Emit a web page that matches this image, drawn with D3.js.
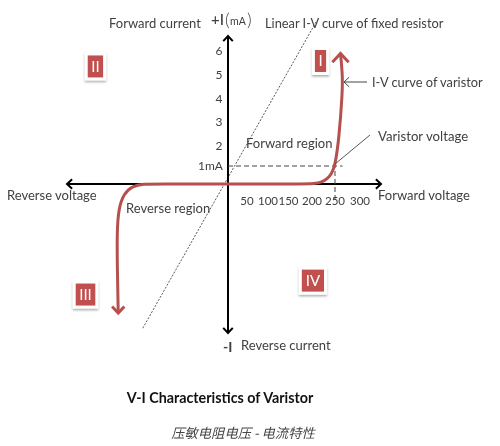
<!DOCTYPE html>
<html>
<head>
<meta charset="utf-8">
<script src="https://cdn.jsdelivr.net/npm/d3@7"></script>
<style>
html, body { margin: 0; padding: 0; background: #fff; }
svg { display: block; filter: blur(0.35px); }
text { font-family: Lato, "Noto Sans", sans-serif; fill: #404040; }
</style>
</head>
<body>
<div id="chart"></div>
<script>
// Values (volts, mA)
var voltageTicks = [50, 100, 150, 200, 250, 300];
var currentTicks = [2, 3, 4, 5, 6];
var varistorVoltage = 250;
var oneMilliamp = 1;

var forwardVolts = [0, 0, 176, 206, 221, 234, 243, 250, 258, 265, 265, 261, 261, 261];
var forwardAmps = [0, 0, 0, 0.02, 0.1, 0.3, 0.6, 1, 2.3, 4.3, 5, 5.9, 5.9, 5.9];
var reverseVolts = [0, 0, -170, -195, -222, -242, -254, -258, -257, -255, -255, -255];
var reverseAmps = [0, 0, 0, 0, -0.08, -0.4, -1, -2, -3.6, -5.37, -5.37, -5.37];
var resistorVolts = [-198, 210];
var resistorAmps = [-6, 6.6];

var regions = ["I", "II", "III", "IV"];
var regionVolts = [218.5, -308, -331, 202];
var regionAmps = [5.58, 5.35, -4.6, -4.02];

function init() {
    var w = 500;
    var h = 446;

    // The tick labels in the original are not quite evenly spaced
    var xScale = d3.scaleLinear()
        .domain([-374, 0, 50, 100, 150, 200, 250, 300, 356])
        .range([67, 228, 247, 268, 288.5, 312, 335, 360, 381]);
    var yScale = d3.scaleLinear()
        .domain([-6.2, 0, 1, 2, 6, 6.3])
        .range([333, 184, 166, 146, 51, 36]);

    var svg = d3.select("#chart").append("svg")
        .attr("width", w)
        .attr("height", h);

    var defs = svg.append("defs");
    var shadow = defs.append("filter").attr("id", "boxShadow")
        .attr("x", "-40%").attr("y", "-40%").attr("width", "180%").attr("height", "180%");
    shadow.append("feDropShadow").attr("dx", 0).attr("dy", 1.5).attr("stdDeviation", 1.2)
        .attr("flood-color", "#000").attr("flood-opacity", 0.35);

    function arrowHead(x, y, a, color, width, size) {
        var s = 0.75;
        svg.append("path")
            .attr("d", "M" + (x - size * Math.cos(a - s)) + "," + (y - size * Math.sin(a - s)) +
                "L" + x + "," + y +
                "L" + (x - size * Math.cos(a + s)) + "," + (y - size * Math.sin(a + s)))
            .attr("fill", "none")
            .attr("stroke", color)
            .attr("stroke-width", width);
    }

    function axisLine(x1, y1, x2, y2) {
        var a = Math.atan2(y2 - y1, x2 - x1);
        svg.append("line")
            .attr("x1", x1).attr("y1", y1)
            .attr("x2", x2).attr("y2", y2)
            .attr("stroke", "#000").attr("stroke-width", 2);
        arrowHead(x2, y2, a, "#000", 2, 7);
        arrowHead(x1, y1, a + Math.PI, "#000", 2, 7);
    }

    // Fixed resistor line
    svg.append("line")
        .attr("x1", xScale(resistorVolts[0])).attr("y1", yScale(resistorAmps[0]))
        .attr("x2", xScale(resistorVolts[1])).attr("y2", yScale(resistorAmps[1]))
        .attr("stroke", "#444")
        .attr("stroke-width", 0.9)
        .attr("stroke-dasharray", "2,1.5");

    // Axes
    axisLine(xScale(-374), yScale(0), xScale(356), yScale(0));
    axisLine(xScale(0), yScale(-6.2), xScale(0), yScale(6.3));

    // 1 mA and varistor voltage guides
    svg.append("line")
        .attr("x1", xScale(0)).attr("y1", yScale(oneMilliamp))
        .attr("x2", xScale(265)).attr("y2", yScale(oneMilliamp))
        .attr("stroke", "#444").attr("stroke-dasharray", "5,3");
    svg.append("line")
        .attr("x1", xScale(varistorVoltage)).attr("y1", yScale(1.15))
        .attr("x2", xScale(varistorVoltage)).attr("y2", yScale(-0.65))
        .attr("stroke", "#444").attr("stroke-dasharray", "5,3");

    // Varistor curve
    var curve = d3.line()
        .x(function(d) { return xScale(d[0]); })
        .y(function(d) { return yScale(d[1]); })
        .curve(d3.curveBasis);

    var red = "#b5504e";
    svg.append("path")
        .datum(d3.zip(forwardVolts, forwardAmps))
        .attr("d", curve)
        .attr("fill", "none").attr("stroke", red).attr("stroke-width", 3);
    svg.append("path")
        .datum(d3.zip(reverseVolts, reverseAmps))
        .attr("d", curve)
        .attr("fill", "none").attr("stroke", red).attr("stroke-width", 3);
    arrowHead(xScale(261), yScale(5.9), -Math.PI / 2, red, 3, 12);
    arrowHead(xScale(-255), yScale(-5.37), Math.PI / 2, red, 3, 9);

    // Leaders
    svg.append("line")
        .attr("x1", 367).attr("y1", 82)
        .attr("x2", 344).attr("y2", 82)
        .attr("stroke", "#444").attr("stroke-width", 1);
    arrowHead(344, 82, Math.PI, "#444", 1, 7);
    svg.append("line")
        .attr("x1", xScale(varistorVoltage)).attr("y1", yScale(1.1))
        .attr("x2", 370).attr("y2", 135)
        .attr("stroke", "#444").attr("stroke-width", 0.9);

    // Tick labels
    svg.selectAll(".xtick").data(voltageTicks).enter().append("text")
        .attr("class", "xtick")
        .attr("x", function(d) { return xScale(d); })
        .attr("y", 205)
        .attr("text-anchor", "middle")
        .attr("font-size", "11.5px")
        .text(function(d) { return d; });
    svg.selectAll(".ytick").data(currentTicks).enter().append("text")
        .attr("class", "ytick")
        .attr("x", 219)
        .attr("y", function(d) { return yScale(d) + 4; })
        .attr("text-anchor", "middle")
        .attr("font-size", "12px")
        .text(function(d) { return d; });

    // Labels
    function label(t, x, y, size, anchor) {
        return svg.append("text")
            .attr("x", x).attr("y", y)
            .attr("font-size", size + "px")
            .attr("text-anchor", anchor || "start")
            .text(t);
    }
    label("1mA", 198, 170, 12);
    label("Forward current", 109, 28, 13);
    label("+I", 211, 25, 15).style("font-weight", 500);
    label("(", 225, 26, 18).style("font-weight", 300);
    label("mA", 230, 25, 10.5);
    label(")", 247, 26, 18).style("font-weight", 300);
    label("Linear I-V curve of fixed resistor", 265, 28, 12.8);
    label("I-V curve of varistor", 372, 87, 12.8);
    label("Varistor voltage", 378, 141, 13.2);
    label("Forward region", 246, 148, 13);
    label("Forward voltage", 378, 200, 13);
    label("Reverse voltage", 7, 200, 13);
    label("Reverse region", 126, 213, 13);
    label("-I", 223, 352, 14).attr("font-weight", "bold");
    label("Reverse current", 241, 350, 13);

    label("V-I Characteristics of Varistor", 220, 403, 14.3, "middle")
        .attr("font-weight", "bold")
        .style("fill", "#111");
    label("压敏电阻电压 - 电流特性", 243, 438, 13.3, "middle")
        .style("font-family", '"Noto Sans CJK SC"')
        .style("font-style", "italic")
        .style("fill", "#444");

    // Quadrant badges, box width follows the numeral
    var bh = 25;
    var badge = svg.selectAll(".badge").data(regions).enter().append("g")
        .attr("class", "badge")
        .attr("transform", function(d, i) {
            return "translate(" + xScale(regionVolts[i]) + "," + yScale(regionAmps[i]) + ")";
        });
    var rects = badge.append("rect")
        .attr("y", -bh / 2)
        .attr("height", bh)
        .attr("fill", "#c0504d")
        .attr("stroke", "#fff")
        .attr("stroke-width", 3)
        .attr("filter", "url(#boxShadow)");
    var numerals = badge.append("text")
        .attr("y", 5.5)
        .attr("text-anchor", "middle")
        .attr("font-size", "15px")
        .style("fill", "#fff")
        .text(function(d) { return d; });
    rects.each(function(d, i) {
        var tw = numerals.nodes()[i].getBBox().width;
        d3.select(this)
            .attr("x", -(tw + 10) / 2)
            .attr("width", tw + 10);
    });
}
window.onload = init;
</script>
</body>
</html>
